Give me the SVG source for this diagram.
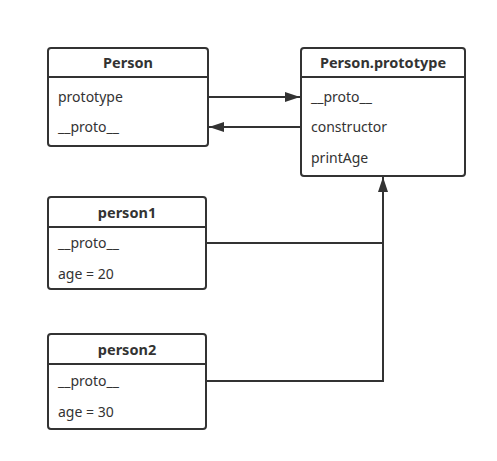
<svg xmlns="http://www.w3.org/2000/svg" width="497" height="461" viewBox="0 0 497 461">
<defs>
<style>
.box{fill:#fff;stroke:#333;stroke-width:2}
.sep{stroke:#333;stroke-width:2}
.title{font-family:"Noto Sans","Liberation Sans",sans-serif;font-size:14.5px;font-weight:bold;fill:#333;text-anchor:middle}
.row{font-family:"Noto Sans","Liberation Sans",sans-serif;font-size:14px;fill:#333}
.conn{fill:none;stroke:#333;stroke-width:2}
</style>
<marker id="ah" viewBox="0 0 15 10" refX="15" refY="5" markerWidth="15" markerHeight="10" markerUnits="userSpaceOnUse" orient="auto">
<path d="M0,0 L15,5 L0,10 Z" fill="#333"/>
</marker>
</defs>
<rect width="497" height="461" fill="#fff"/>
<g id="connectors">
<path class="conn" d="M208,97 L300,97" marker-end="url(#ah)"/>
<path class="conn" d="M301,127 L209,127" marker-end="url(#ah)"/>
<path class="conn" d="M207,243 L383,243"/>
<path class="conn" d="M207,381 L383,381 L383,177" marker-end="url(#ah)"/>
</g>
<g id="Person">
<rect class="box" x="48" y="48" width="160" height="98" rx="3"/>
<line class="sep" x1="48" y1="77" x2="208" y2="77"/>
<text class="title" x="128" y="68">Person</text>
<text class="row" x="58" y="102">prototype</text>
<text class="row" x="58" y="132">__proto__</text>
</g>
<g id="PersonPrototype">
<rect class="box" x="301" y="48" width="164" height="128" rx="3"/>
<line class="sep" x1="301" y1="77" x2="465" y2="77"/>
<text class="title" x="383" y="68">Person.prototype</text>
<text class="row" x="311" y="102">__proto__</text>
<text class="row" x="311" y="132">constructor</text>
<text class="row" x="311" y="163">printAge</text>
</g>
<g id="person1">
<rect class="box" x="48" y="197" width="158" height="92" rx="3"/>
<line class="sep" x1="48" y1="227" x2="206" y2="227"/>
<text class="title" x="127" y="218">person1</text>
<text class="row" x="58" y="248">__proto__</text>
<text class="row" x="58" y="279">age = 20</text>
</g>
<g id="person2">
<rect class="box" x="48" y="334" width="158" height="95" rx="3"/>
<line class="sep" x1="48" y1="364" x2="206" y2="364"/>
<text class="title" x="127" y="355">person2</text>
<text class="row" x="58" y="386">__proto__</text>
<text class="row" x="58" y="417">age = 30</text>
</g>
</svg>
